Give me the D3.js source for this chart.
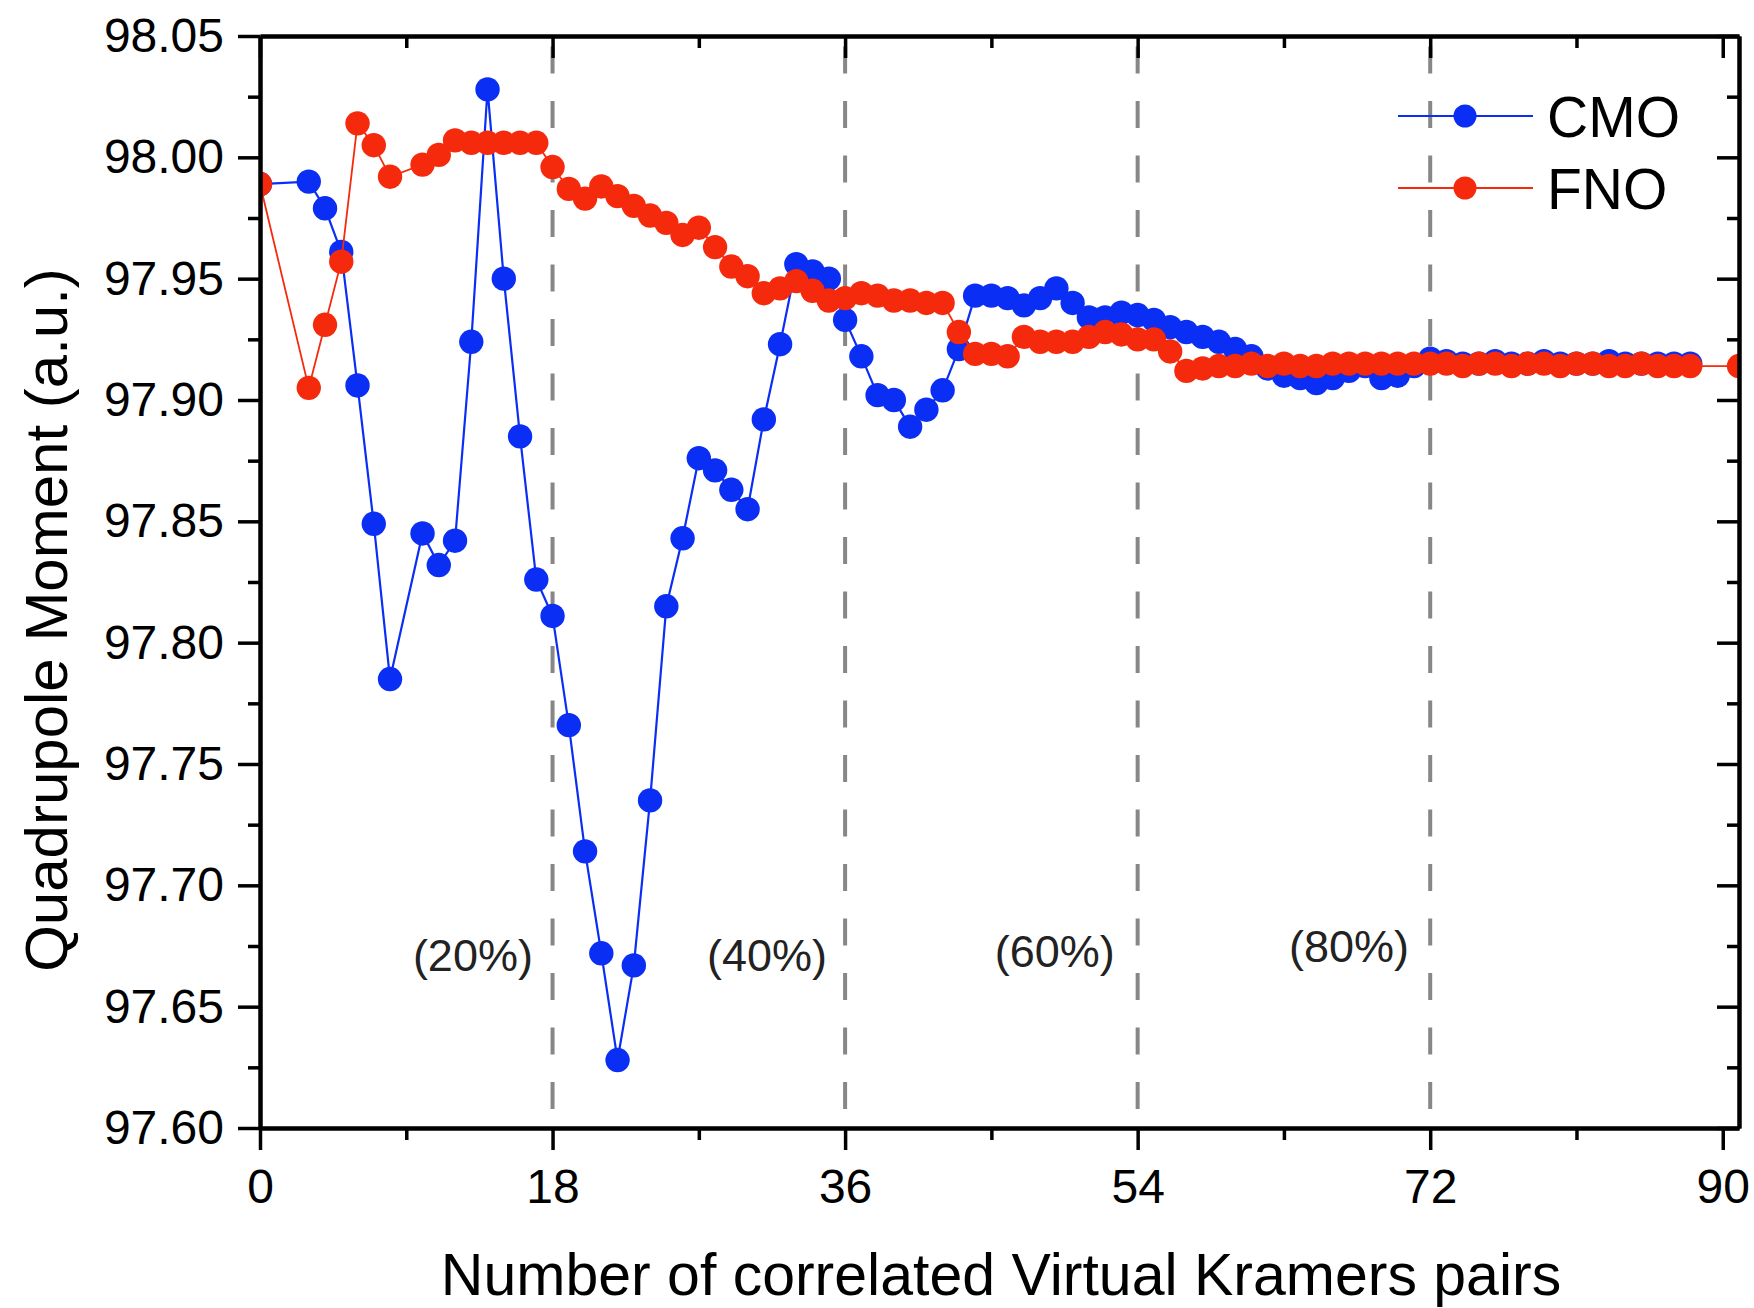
<!DOCTYPE html>
<html>
<head>
<meta charset="utf-8">
<script src="https://cdn.jsdelivr.net/npm/d3@7"></script>
<style>
  html, body { margin: 0; padding: 0; background: #fff; }
  svg { display: block; font-family: "Liberation Sans", Arial, sans-serif; }
</style>
</head>
<body>
<svg id="chart" width="1754" height="1308"></svg>
<script>
// ---------------- data ----------------
const cmoX = [0,3,4,5,6,7,8,10,11,12,13,14,15,16,17,18,19,20,21,22,23,24,25,26,27,28,29,30,
  31,32,33,34,35,36,37,38,39,40,41,42,43,44,45,46,47,48,49,50,51,52,53,54,55,56,57,58,59,60,
  61,62,63,64,65,66,67,68,69,70,71,72,73,74,75,76,77,78,79,80,81,82,83,84,85,86,87,88];
const cmoY = [97.989,97.990,97.979,97.961,97.906,97.849,97.785,97.845,97.832,97.842,97.924,98.028,
  97.950,97.885,97.826,97.811,97.766,97.714,97.672,97.628,97.667,97.735,97.815,97.843,97.876,97.871,
  97.863,97.855,97.892,97.923,97.956,97.953,97.950,97.933,97.918,97.902,97.900,97.889,97.896,97.904,
  97.921,97.943,97.943,97.942,97.939,97.942,97.946,97.940,97.934,97.934,97.936,97.935,97.933,97.930,
  97.928,97.926,97.924,97.921,97.918,97.913,97.910,97.909,97.907,97.909,97.912,97.914,97.909,97.910,
  97.914,97.917,97.916,97.915,97.915,97.916,97.915,97.915,97.916,97.915,97.915,97.915,97.916,97.915,
  97.915,97.915,97.915,97.915];

const fnoX = [0,3,4,5,6,7,8,10,11,12,13,14,15,16,17,18,19,20,21,22,23,24,25,26,27,28,29,30,
  31,32,33,34,35,36,37,38,39,40,41,42,43,44,45,46,47,48,49,50,51,52,53,54,55,56,57,58,59,60,
  61,62,63,64,65,66,67,68,69,70,71,72,73,74,75,76,77,78,79,80,81,82,83,84,85,86,87,88,91];
const fnoY = [97.989,97.905,97.931,97.957,98.014,98.005,97.992,97.997,98.001,98.007,98.006,98.006,
  98.006,98.006,98.006,97.996,97.987,97.983,97.988,97.984,97.980,97.976,97.973,97.968,97.971,97.963,
  97.955,97.951,97.944,97.946,97.949,97.945,97.941,97.942,97.944,97.943,97.941,97.941,97.940,97.940,
  97.928,97.919,97.919,97.918,97.926,97.924,97.924,97.924,97.926,97.928,97.927,97.925,97.925,97.920,
  97.912,97.913,97.914,97.914,97.915,97.914,97.915,97.914,97.914,97.915,97.915,97.915,97.915,97.915,
  97.915,97.915,97.915,97.914,97.915,97.915,97.914,97.915,97.915,97.914,97.915,97.915,97.914,97.914,
  97.915,97.914,97.914,97.914,97.914];

const seriesNames = ["CMO", "FNO"];
const seriesColors = ["#0a2ef4", "#f52a0c"];
const xMajorTicks = [0, 18, 36, 54, 72, 90];
const xMinorTicks = [9, 27, 45, 63, 81];
const yMajorTicks = [97.60, 97.65, 97.70, 97.75, 97.80, 97.85, 97.90, 97.95, 98.00, 98.05];
const yMinorTicks = [97.625, 97.675, 97.725, 97.775, 97.825, 97.875, 97.925, 97.975, 98.025];
const dividerX = [18, 36, 54, 72];
const regionLabels = [
  {x: 13.1, y: 97.671, text: "(20%)"},
  {x: 31.2, y: 97.671, text: "(40%)"},
  {x: 48.9, y: 97.673, text: "(60%)"},
  {x: 67.0, y: 97.675, text: "(80%)"}
];
const xTitle = "Number of correlated Virtual Kramers pairs";
const yTitle = "Quadrupole Moment (a.u.)";

// ---------------- layout ----------------
const L = 260, R = 1739, T = 36, B = 1128;
const x = d3.scaleLinear().domain([0, 91]).range([L, R]);
const y = d3.scaleLinear().domain([97.60, 98.05]).range([B, T]);

const svg = d3.select("#chart");
svg.append("rect").attr("width", 1754).attr("height", 1308).attr("fill", "#fff");

svg.append("clipPath").attr("id", "plotclip")
  .append("rect").attr("x", L).attr("y", T).attr("width", R - L).attr("height", B - T);

// dashed dividers
svg.append("g").selectAll("line").data(dividerX).join("line")
  .attr("x1", d => x(d)).attr("x2", d => x(d))
  .attr("y1", T).attr("y2", B)
  .attr("stroke", "#878787").attr("stroke-width", 4)
  .attr("stroke-dasharray", "27 27.5").attr("stroke-dashoffset", 44);

// region labels
svg.append("g").selectAll("text").data(regionLabels).join("text")
  .attr("x", d => x(d.x)).attr("y", d => y(d.y))
  .attr("text-anchor", "middle").attr("dy", "0.35em")
  .attr("font-size", 45).attr("fill", "#222")
  .text(d => d.text);

// series
const plotG = svg.append("g").attr("clip-path", "url(#plotclip)");
const series = [
  {xs: cmoX, ys: cmoY, color: seriesColors[0], lw: 2.2},
  {xs: fnoX, ys: fnoY, color: seriesColors[1], lw: 1.8}
];
const line = d3.line().x(d => x(d[0])).y(d => y(d[1]));
series.forEach(s => {
  const pts = s.xs.map((v, i) => [v, s.ys[i]]);
  const g = plotG.append("g");
  g.append("path").datum(pts).attr("d", line)
    .attr("fill", "none").attr("stroke", s.color).attr("stroke-width", s.lw);
  g.selectAll("circle").data(pts).join("circle")
    .attr("cx", d => x(d[0])).attr("cy", d => y(d[1])).attr("r", 12.2)
    .attr("fill", s.color);
});

// axes
const fmt = d3.format(".2f");
function styleAxis(g, w) {
  g.select(".domain").attr("stroke", "#000").attr("stroke-width", w);
  g.selectAll(".tick line").attr("stroke", "#000").attr("stroke-width", 3.5);
  g.selectAll(".tick text").attr("fill", "#000").attr("font-size", 48)
    .attr("font-family", "Liberation Sans, Arial, sans-serif");
}
// bottom
svg.append("g").attr("transform", `translate(0,${B})`)
  .call(d3.axisBottom(x).tickValues(xMinorTicks).tickSize(12).tickFormat("").tickSizeOuter(0))
  .call(g => styleAxis(g, 4));
svg.append("g").attr("transform", `translate(0,${B})`)
  .call(d3.axisBottom(x).tickValues(xMajorTicks).tickSize(22).tickPadding(19).tickSizeOuter(0))
  .call(g => styleAxis(g, 4));
// top (inward)
svg.append("g").attr("transform", `translate(0,${T})`)
  .call(d3.axisTop(x).tickValues(xMinorTicks).tickSize(-12).tickFormat("").tickSizeOuter(0))
  .call(g => styleAxis(g, 4));
svg.append("g").attr("transform", `translate(0,${T})`)
  .call(d3.axisTop(x).tickValues(xMajorTicks).tickSize(-22).tickFormat("").tickSizeOuter(0))
  .call(g => styleAxis(g, 4));
// left
svg.append("g").attr("transform", `translate(${L},0)`)
  .call(d3.axisLeft(y).tickValues(yMinorTicks).tickSize(12).tickFormat("").tickSizeOuter(0))
  .call(g => styleAxis(g, 4));
svg.append("g").attr("transform", `translate(${L},0)`)
  .call(d3.axisLeft(y).tickValues(yMajorTicks).tickSize(22).tickPadding(14).tickFormat(fmt).tickSizeOuter(0))
  .call(g => styleAxis(g, 4));
// right (inward)
svg.append("g").attr("transform", `translate(${R},0)`)
  .call(d3.axisRight(y).tickValues(yMinorTicks).tickSize(-12).tickFormat("").tickSizeOuter(0))
  .call(g => styleAxis(g, 4));
svg.append("g").attr("transform", `translate(${R},0)`)
  .call(d3.axisRight(y).tickValues(yMajorTicks).tickSize(-22).tickFormat("").tickSizeOuter(0))
  .call(g => styleAxis(g, 4));

// axis titles
svg.append("text").attr("x", 1001).attr("y", 1295).attr("text-anchor", "middle")
  .attr("font-size", 59).attr("fill", "#000").text(xTitle);
svg.append("text").attr("transform", "translate(67,620) rotate(-90)")
  .attr("text-anchor", "middle").attr("font-size", 60).attr("fill", "#000").text(yTitle);

// legend
const legend = svg.append("g");
seriesNames.forEach((name, i) => {
  const ly = 116 + i * 72;
  legend.append("line").attr("x1", 1398).attr("x2", 1533).attr("y1", ly).attr("y2", ly)
    .attr("stroke", seriesColors[i]).attr("stroke-width", i === 0 ? 2.2 : 1.8);
  legend.append("circle").attr("cx", 1465).attr("cy", ly).attr("r", 11.5).attr("fill", seriesColors[i]);
  legend.append("text").attr("x", 1547).attr("y", ly).attr("dy", "0.36em")
    .attr("font-size", 57).attr("fill", "#000").text(name);
});
</script>
</body>
</html>
